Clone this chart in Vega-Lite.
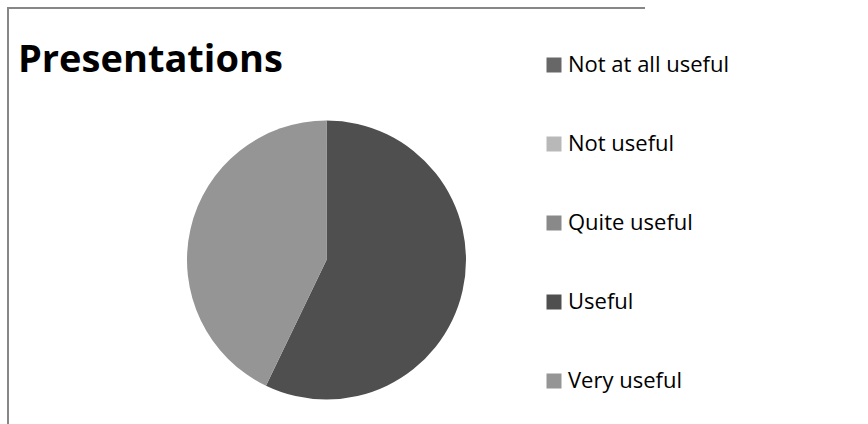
{
  "$schema": "https://vega.github.io/schema/vega-lite/v6.json",
  "width": 637,
  "height": 504,
  "autosize": {"type": "none"},
  "padding": {"left": 8, "top": 8, "right": 223, "bottom": 0},
  "background": "white",
  "view": {"stroke": "#878787", "strokeWidth": 2, "strokeDash": [637, 1141, 504]},
  "config": {
    "font": "Open Sans"
  },
  "title": {
    "text": "Presentations",
    "anchor": "start",
    "frame": "group",
    "orient": "top",
    "font": "Open Sans",
    "fontSize": 38,
    "fontWeight": "bold",
    "color": "#000000",
    "baseline": "alphabetic",
    "offset": 0,
    "dx": 10,
    "dy": 102
  },
  "data": {
    "values": [
      {"rating": "Not at all useful", "count": 0},
      {"rating": "Not useful", "count": 0},
      {"rating": "Quite useful", "count": 0},
      {"rating": "Useful", "count": 4},
      {"rating": "Very useful", "count": 3}
    ]
  },
  "mark": {"type": "arc", "outerRadius": 139.5},
  "encoding": {
    "theta": {"field": "count", "type": "quantitative", "stack": true},
    "color": {
      "field": "rating",
      "type": "nominal",
      "sort": ["Not at all useful", "Not useful", "Quite useful", "Useful", "Very useful"],
      "scale": {
        "domain": ["Not at all useful", "Not useful", "Quite useful", "Useful", "Very useful"],
        "range": ["#676767", "#b8b8b8", "#898989", "#4f4f4f", "#959595"]
      },
      "legend": {
        "title": null,
        "orient": "none",
        "legendX": 535,
        "legendY": 47,
        "padding": 0,
        "symbolType": "square",
        "symbolSize": 225,
        "symbolStrokeWidth": 0,
        "symbolOpacity": 1,
        "labelFont": "Open Sans",
        "labelFontSize": 22,
        "labelColor": "#000000",
        "labelOffset": 3,
        "labelLimit": 300,
        "rowPadding": 57,
        "clipHeight": 20
      }
    },
    "order": {"field": "rating", "sort": "ascending"}
  }
}
